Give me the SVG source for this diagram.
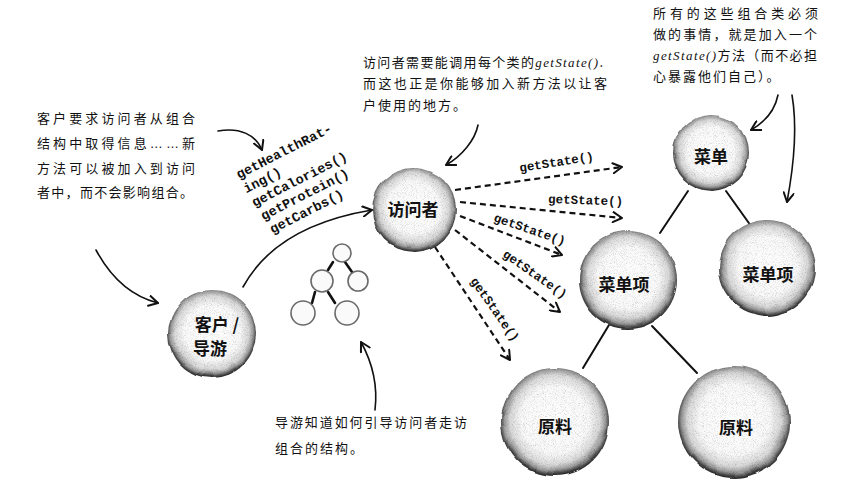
<svg xmlns="http://www.w3.org/2000/svg" width="855" height="489" viewBox="0 0 855 489">
  <style>
    .note { font-family: "Noto Sans CJK SC", "Noto Sans", sans-serif; font-size: 13px; fill: #111; }
    .note .code { font-family: "Liberation Serif", serif; font-style: italic; }
    .note .dots { font-family: "Liberation Sans", sans-serif; }
    .label { font-family: "Noto Sans CJK SC", "Noto Sans", sans-serif; font-size: 17px; font-weight: bold; fill: #111; text-anchor: middle; }
    .mono { font-family: "Liberation Mono", "DejaVu Sans Mono", monospace; font-weight: bold; font-size: 12.5px; fill: #111; }
    .edge { stroke: #111; stroke-width: 2; fill: none; stroke-linecap: round; }
    .twig { stroke: #111; stroke-width: 2.6; fill: none; stroke-linecap: round; }
    .call { stroke: #111; stroke-width: 2.2; fill: none; stroke-dasharray: 6 4; }
    .hand { stroke: #111; stroke-width: 1.6; fill: none; stroke-linecap: round; }
    .mini { fill: #fafafa; stroke: #6a6a6a; stroke-width: 1.6; }
  </style>
  <defs>
    <radialGradient id="ball" cx="50%" cy="48%" r="52%">
      <stop offset="0" stop-color="#ffffff"/>
      <stop offset="0.6" stop-color="#f8f8f8"/>
      <stop offset="0.8" stop-color="#d8d8d8"/>
      <stop offset="0.9" stop-color="#9a9a9a"/>
      <stop offset="0.96" stop-color="#4a4a4a"/>
      <stop offset="1" stop-color="#222"/>
    </radialGradient>
    <filter id="pencil" x="-10%" y="-10%" width="120%" height="120%">
      <feTurbulence type="fractalNoise" baseFrequency="0.04" numOctaves="2" seed="2" result="warp"/>
      <feDisplacementMap in="SourceGraphic" in2="warp" scale="4" xChannelSelector="R" yChannelSelector="G" result="shape"/>
      <feTurbulence type="fractalNoise" baseFrequency="1.1" numOctaves="1" seed="7" result="fine"/>
      <feColorMatrix in="fine" type="matrix" values="0 0 0 0 0  0 0 0 0 0  0 0 0 0 0  1.1 0 0 0 -0.55" result="specks"/>
      <feComposite in="specks" in2="shape" operator="in" result="grain"/>
      <feMerge><feMergeNode in="shape"/><feMergeNode in="grain"/></feMerge>
    </filter>
    <marker id="open" viewBox="0 0 12 12" refX="10" refY="6" markerWidth="12" markerHeight="12" markerUnits="userSpaceOnUse" orient="auto">
      <path d="M1,1 L10,6 L1,11" fill="none" stroke="#111" stroke-width="2" stroke-linecap="round" stroke-linejoin="round"/>
    </marker>
  </defs>

  <rect width="855" height="489" fill="#fff"/>

  <!-- tree edges, calls and pointer arrows -->
  <g id="connectors">
    <path class="edge" d="M688,191 L660,233"/>
    <path class="edge" d="M726,191 L751,226"/>
    <path class="edge" d="M609,325 L583,368"/>
    <path class="edge" d="M652,326 L697,373"/>

    <path class="call" d="M455,190 L622,167" marker-end="url(#open)"/>
    <path class="call" d="M460,202 L622,218" marker-end="url(#open)"/>
    <path class="call" d="M460,216 L562,255" marker-end="url(#open)"/>
    <path class="call" d="M455,230 L560,312" marker-end="url(#open)"/>
    <path class="call" d="M435,247 L510,360" marker-end="url(#open)"/>

    <path class="hand" d="M243,287 C262,252 300,222 372,210" marker-end="url(#open)"/>
    <path class="hand" d="M218,131 C240,127 256,135 262,150" marker-end="url(#open)"/>
    <path class="hand" d="M96,250 C110,276 130,296 158,303" marker-end="url(#open)"/>
    <path class="hand" d="M478,125 C475,140 462,156 446,165" marker-end="url(#open)"/>
    <path class="hand" d="M778,95 C775,110 765,122 751,130" marker-end="url(#open)"/>
    <path class="hand" d="M792,95 C798,130 793,170 787,202" marker-end="url(#open)"/>
    <path class="hand" d="M375,410 C378,385 372,362 361,342" marker-end="url(#open)"/>

    <text class="mono" transform="translate(520,172) rotate(-9)">getState()</text>
    <text class="mono" transform="translate(548,203) rotate(2)">getState()</text>
    <text class="mono" transform="translate(493,221) rotate(19)">getState()</text>
    <text class="mono" transform="translate(502,256) rotate(35)">getState()</text>
    <text class="mono" transform="translate(470,281) rotate(55)">getState()</text>
  </g>

  <!-- nodes -->
  <g id="client">
    <circle cx="212" cy="334" r="44" fill="url(#ball)" filter="url(#pencil)"/>
    <text class="label" x="217" y="331">客户 /</text>
    <text class="label" x="210" y="355">导游</text>
  </g>
  <g id="visitor">
    <circle cx="414" cy="210" r="42" fill="url(#ball)" filter="url(#pencil)"/>
    <text class="label" x="413" y="216">访问者</text>
  </g>
  <g id="menu">
    <circle cx="711" cy="153" r="38" fill="url(#ball)" filter="url(#pencil)"/>
    <text class="label" x="711" y="163">菜单</text>
  </g>
  <g id="menu-item-left">
    <circle cx="628" cy="280" r="49" fill="url(#ball)" filter="url(#pencil)"/>
    <text class="label" x="624" y="291">菜单项</text>
  </g>
  <g id="menu-item-right">
    <circle cx="767" cy="268" r="48" fill="url(#ball)" filter="url(#pencil)"/>
    <text class="label" x="768" y="281">菜单项</text>
  </g>
  <g id="ingredient-left">
    <circle cx="555" cy="422" r="54" fill="url(#ball)" filter="url(#pencil)"/>
    <text class="label" x="555" y="433">原料</text>
  </g>
  <g id="ingredient-right">
    <circle cx="734" cy="422" r="56" fill="url(#ball)" filter="url(#pencil)"/>
    <text class="label" x="736" y="434">原料</text>
  </g>

  <!-- small sketch of a composite tree -->
  <g id="tree-sketch">
    <path class="twig" d="M333,262 L328,270 M345,262 L352,272 M315,292 L312,303 M328,292 L335,303"/>
    <circle class="mini" cx="342" cy="253" r="9"/>
    <circle class="mini" cx="322" cy="281" r="11"/>
    <circle class="mini" cx="358" cy="281" r="10"/>
    <circle class="mini" cx="303" cy="313" r="12"/>
    <circle class="mini" cx="347" cy="313" r="12"/>
  </g>

  <!-- method list -->
  <g id="methods">
    <text class="mono" style="font-size:13.5px" transform="translate(239,179) rotate(-27)">
      <tspan x="0" y="0">getHealthRat-</tspan>
      <tspan x="0" y="16">ing()</tspan>
      <tspan x="1" y="32">getCalories()</tspan>
      <tspan x="3" y="48">getProtein()</tspan>
      <tspan x="5" y="64">getCarbs()</tspan>
    </text>
  </g>

  <!-- annotations -->
  <g id="note-client">
    <text class="note" x="37" y="123" textLength="158" lengthAdjust="spacing">客户要求访问者从组合</text>
    <text class="note" x="37" y="148" textLength="158" lengthAdjust="spacing">结构中取得信息<tspan class="dots">……</tspan>新</text>
    <text class="note" x="37" y="173" textLength="158" lengthAdjust="spacing">方法可以被加入到访问</text>
    <text class="note" x="37" y="197" textLength="156" lengthAdjust="spacing">者中，而不会影响组合。</text>
  </g>
  <g id="note-visitor">
    <text class="note" x="363" y="67" textLength="240" lengthAdjust="spacing">访问者需要能调用每个类的<tspan class="code">getState()</tspan>.</text>
    <text class="note" x="363" y="88" textLength="244" lengthAdjust="spacing">而这也正是你能够加入新方法以让客</text>
    <text class="note" x="363" y="110" letter-spacing="2">户使用的地方。</text>
  </g>
  <g id="note-composite">
    <text class="note" x="653" y="18" textLength="165" lengthAdjust="spacing">所有的这些组合类必须</text>
    <text class="note" x="653" y="39" textLength="164" lengthAdjust="spacing">做的事情，就是加入一个</text>
    <text class="note" x="653" y="60" textLength="164" lengthAdjust="spacing"><tspan class="code">getState()</tspan>方法（而不必担</text>
    <text class="note" x="653" y="81" letter-spacing="2">心暴露他们自己）。</text>
  </g>
  <g id="note-guide">
    <text class="note" x="275" y="427" textLength="192" lengthAdjust="spacing">导游知道如何引导访问者走访</text>
    <text class="note" x="275" y="453" letter-spacing="2">组合的结构。</text>
  </g>
</svg>
